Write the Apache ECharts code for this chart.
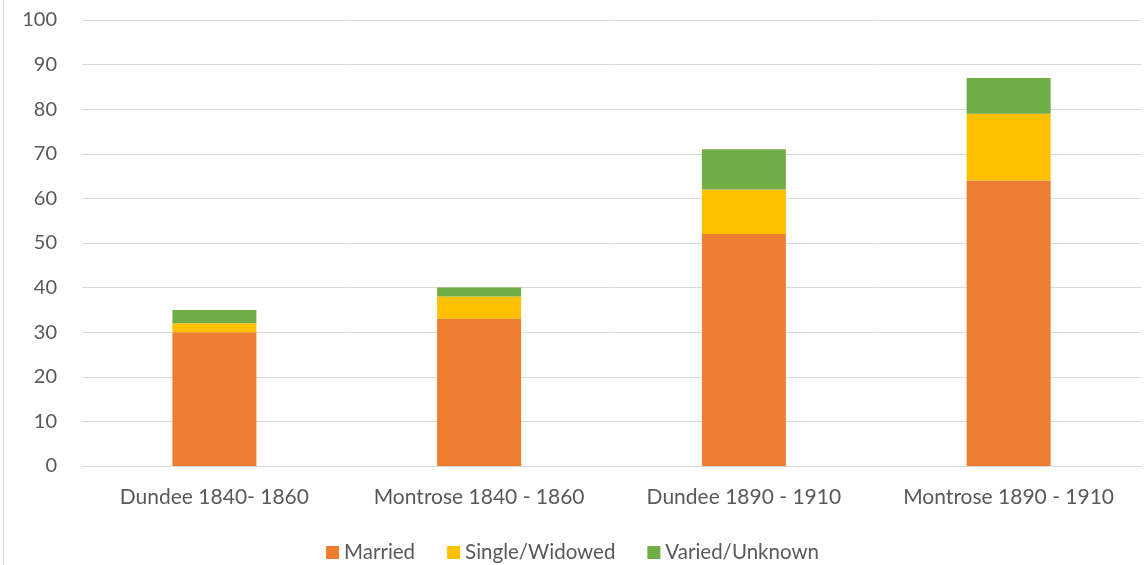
<!DOCTYPE html>
<html><head><meta charset="utf-8">
<script src="https://cdn.jsdelivr.net/npm/echarts@6/dist/echarts.min.js"></script>
<style>html,body{margin:0;padding:0;background:#fff}#c{width:1145px;height:565px}</style>
</head><body><div id="c"></div>
<script>
const categories = ["Dundee 1840- 1860", "Montrose 1840 - 1860", "Dundee 1890 - 1910", "Montrose 1890 - 1910"];
const married = [30, 33, 52, 64];
const singleWidowed = [2, 5, 10, 15];
const variedUnknown = [3, 2, 9, 8];
const seriesNames = ["Married", "Single/Widowed", "Varied/Unknown"];
const yTicks = {min: 0, max: 100, interval: 10};

const font = "Lato, 'Open Sans', 'Liberation Sans', sans-serif";
const chart = echarts.init(document.getElementById('c'), null, {renderer: 'canvas'});
const colors = ['#ED7D31', '#FFC000', '#70AD47'];
const datas = [married, singleWidowed, variedUnknown];
chart.setOption({
  animation: false,
  color: colors,
  grid: {left: 82, right: 4, top: 20, bottom: 99, containLabel: false},
  legend: {
    bottom: 0, left: 'center', itemWidth: 13, itemHeight: 13, itemGap: 32,
    padding: [5, 5, 2, 5],
    icon: 'rect',
    textStyle: {color: '#595959', fontSize: 20.5, fontFamily: font},
    data: seriesNames
  },
  xAxis: {
    type: 'category', data: categories,
    axisLine: {lineStyle: {color: '#d9d9d9', width: 1}},
    axisTick: {show: false},
    axisLabel: {color: '#595959', fontSize: 21, fontFamily: font, margin: 21, interval: 0, hideOverlap: false}
  },
  yAxis: {
    type: 'value', min: yTicks.min, max: yTicks.max, interval: yTicks.interval,
    axisLine: {show: false}, axisTick: {show: false},
    splitLine: {lineStyle: {color: '#d9d9d9', width: 1}},
    axisLabel: {color: '#595959', fontSize: 20, fontFamily: font, margin: 25}
  },
  graphic: [{type: 'line', shape: {x1: 3.5, y1: 0, x2: 3.5, y2: 565}, style: {stroke: '#d9d9d9', lineWidth: 1}}],
  series: seriesNames.map((n, i) => ({
    name: n, type: 'bar', stack: 'total', barWidth: 84, data: datas[i]
  }))
});
</script></body></html>
